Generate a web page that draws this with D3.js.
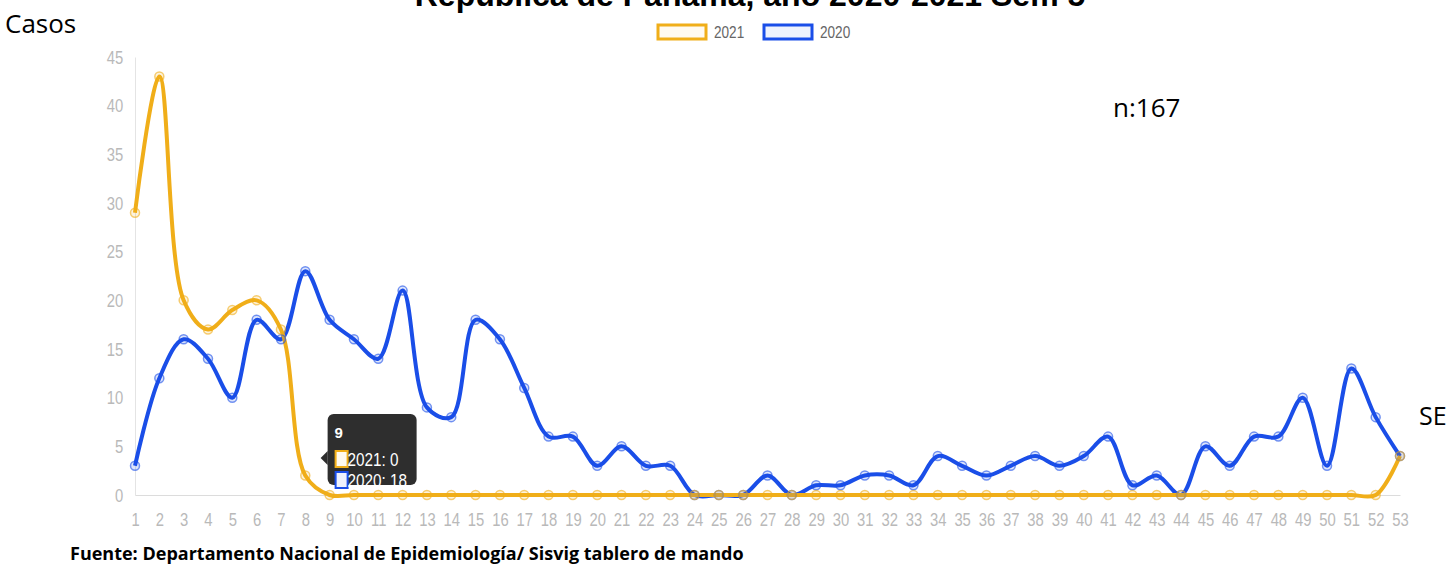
<!DOCTYPE html>
<head>
<meta charset="utf-8">
<title>Casos por semana epidemiologica</title>
<style>
body {
  margin: 0;
  background: #fff;
}
.tick text {
  font-family: "Liberation Sans", Arial, sans-serif;
  font-size: 19px;
  fill: #b9b9b9;
}
.doc {
  font-family: "Open Sans", "Liberation Sans", sans-serif;
  fill: #000;
}
</style>
<script type="text/javascript" src="https://cdn.jsdelivr.net/npm/d3@7/dist/d3.min.js" charset="utf-8"></script>
</head>
<body>
<svg id="chart" width="1448" height="565"></svg>
<script>

// semanas epidemiologicas
var semanas = d3.range(1, 54);
var yTicks = [0, 5, 10, 15, 20, 25, 30, 35, 40, 45];

// casos por semana
var casos2021 = [29, 43, 20, 17, 19, 20, 17, 2, 0, 0, 0, 0, 0, 0, 0, 0, 0, 0, 0, 0,
                 0, 0, 0, 0, 0, 0, 0, 0, 0, 0, 0, 0, 0, 0, 0, 0, 0, 0, 0, 0,
                 0, 0, 0, 0, 0, 0, 0, 0, 0, 0, 0, 0, 4];
var casos2020 = [3, 12, 16, 14, 10, 18, 16, 23, 18, 16, 14, 21, 9, 8, 18, 16, 11, 6, 6, 3,
                 5, 3, 3, 0, 0, 0, 2, 0, 1, 1, 2, 2, 1, 4, 3, 2, 3, 4, 3, 4,
                 6, 1, 2, 0, 5, 3, 6, 6, 10, 3, 13, 8, 4];

var series = [
  {name: "2021", values: casos2021, color: "#f0ae19", fill: "#fffaf0"},
  {name: "2020", values: casos2020, color: "#1a4ee8", fill: "#eef2fd"}
];

var tooltipSemana = 9;

var svg = d3.select("#chart");

var x = d3.scaleLinear().domain([1, 53]).range([135, 1400]);
var y = d3.scaleLinear().domain([0, 45]).range([495, 57]);

// ejes (texto angosto como en la imagen original)
var yAxis = svg.append("g")
  .attr("transform", "translate(135,0)")
  .call(d3.axisLeft(y).tickValues(yTicks).tickSize(0).tickPadding(15));
yAxis.select(".domain").attr("stroke", "#e4e4e4");
yAxis.selectAll(".tick text").attr("transform", "scale(0.78,1)");

var xAxis = svg.append("g")
  .attr("transform", "translate(0,495)")
  .call(d3.axisBottom(x).tickValues(semanas).tickFormat(d3.format("d")).tickSize(0).tickPadding(18));
xAxis.select(".domain").attr("stroke", "#dcdcdc");
xAxis.selectAll(".tick text").attr("transform", "scale(0.78,1)");

var line = d3.line()
  .x(function(d, i) { return x(semanas[i]); })
  .y(function(d) { return y(d); })
  .curve(d3.curveCatmullRom.alpha(0.5));

// 2020 atras, 2021 adelante
series.slice().reverse().forEach(function(s) {
  svg.append("path")
    .attr("d", line(s.values))
    .attr("fill", "none")
    .attr("stroke", s.color)
    .attr("stroke-width", 4);
});

series.slice().reverse().forEach(function(s) {
  svg.append("g").selectAll("circle")
    .data(s.values)
    .enter()
    .append("circle")
    .attr("cx", function(d, i) { return x(semanas[i]); })
    .attr("cy", function(d) { return y(d); })
    .attr("r", 4.5)
    .attr("fill", s.color)
    .attr("fill-opacity", 0.15)
    .attr("stroke", s.color)
    .attr("stroke-opacity", 0.6)
    .attr("stroke-width", 1.5);
});

// leyenda
var legend = svg.append("g");
series.forEach(function(s, i) {
  var lx = 658 + i * 106;
  legend.append("rect")
    .attr("x", lx).attr("y", 25)
    .attr("width", 48).attr("height", 14)
    .attr("fill", s.fill)
    .attr("stroke", s.color)
    .attr("stroke-width", 3);
  legend.append("text")
    .attr("transform", "translate(" + (lx + 56) + ",38) scale(0.8,1)")
    .attr("font-family", "Liberation Sans, sans-serif")
    .attr("font-size", 17)
    .attr("fill", "#666")
    .text(s.name);
});

// tooltip semana 9
var ti = tooltipSemana - 1;
var tx = x(tooltipSemana) - 2;
var tip = svg.append("g");
tip.append("rect")
  .attr("x", tx).attr("y", 414)
  .attr("width", 89).attr("height", 71)
  .attr("rx", 6)
  .attr("fill", "rgba(0,0,0,0.82)");
tip.append("path")
  .attr("d", "M" + tx + ",451 L" + (tx - 7) + ",458 L" + tx + ",465 Z")
  .attr("fill", "rgba(0,0,0,0.82)");
tip.append("text")
  .attr("x", tx + 7).attr("y", 438)
  .attr("font-family", "Liberation Sans, sans-serif")
  .attr("font-weight", "bold")
  .attr("font-size", 15)
  .attr("fill", "#fff")
  .text(tooltipSemana);
series.forEach(function(s, i) {
  var ry = 451 + i * 21;
  tip.append("rect")
    .attr("x", tx + 8).attr("y", ry)
    .attr("width", 12).attr("height", 16)
    .attr("fill", s.fill)
    .attr("stroke", s.color)
    .attr("stroke-width", 2);
  tip.append("text")
    .attr("transform", "translate(" + (tx + 20) + "," + (ry + 15) + ") scale(0.85,1)")
    .attr("font-family", "Liberation Sans, sans-serif")
    .attr("font-size", 18)
    .attr("fill", "#fff")
    .text(s.name + ": " + s.values[ti]);
});

// textos del documento
svg.append("text")
  .attr("x", 750).attr("y", 6)
  .attr("text-anchor", "middle")
  .attr("font-family", "Liberation Sans, sans-serif")
  .attr("font-weight", "bold")
  .attr("font-size", 32)
  .text("República de Panamá, año 2020-2021 Sem 5");

svg.append("text").attr("class", "doc")
  .attr("x", 5).attr("y", 33)
  .attr("font-size", 26)
  .text("Casos");

svg.append("text").attr("class", "doc")
  .attr("x", 1113).attr("y", 117)
  .attr("font-size", 26)
  .text("n:167");

svg.append("text").attr("class", "doc")
  .attr("x", 1419).attr("y", 425)
  .attr("font-size", 25)
  .text("SE");

svg.append("text").attr("class", "doc")
  .attr("x", 70).attr("y", 560)
  .attr("font-size", 18)
  .attr("font-weight", "bold")
  .text("Fuente: Departamento Nacional de Epidemiología/ Sisvig tablero de mando");

</script>
</body>
